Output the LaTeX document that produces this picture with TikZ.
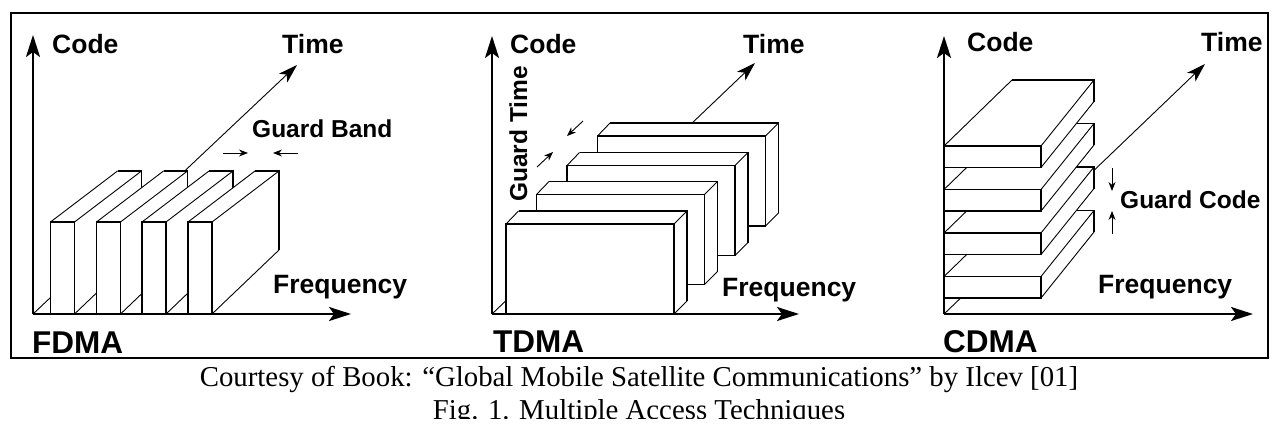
\documentclass[tikz,border=0pt]{standalone}
\usepackage{fontspec}
\setmainfont{Liberation Serif}
\setsansfont{Liberation Sans}
\usetikzlibrary{arrows.meta}

\newcommand\fdmaslab[1]{%
  \begin{scope}[shift={(#1,0)}]
    \fill[white] (0,314) -- (0,222) -- (67,171) -- (91,171) -- (91,250) -- (24,314) -- cycle;
    \draw[thinedge] (0,222) -- (67,171) (24,222) -- (91,171) (24,314) -- (91,250);
    \draw[thickedge] (0,222) rectangle (24,314);
    \draw[thickedge] (67,171) -- (91,171) -- (91,250);
  \end{scope}}
\newcommand\tdmaslab[2]{%
  \begin{scope}[shift={(#1,#2)}]
    \fill[white] (0,90) -- (0,0) -- (12.5,-13) -- (181,-13) -- (181,77) -- (168,90) -- cycle;
    \draw[thinedge] (0,0) -- (12.5,-13) (168,0) -- (181,-13) (168,90) -- (181,77);
    \draw[thickedge] (0,0) rectangle (168,90);
    \draw[thickedge] (12.5,-13) -- (181,-13) -- (181,77);
  \end{scope}}
\newcommand\cdmaslab[1]{%
  \begin{scope}[shift={(944,#1)}]
    \fill[white] (0,21.5) -- (0,0) -- (68,-66) -- (150,-66) -- (150,-44.5) -- (97,21.5) -- cycle;
    \draw[thinedge] (0,0) -- (68,-66) (97,0) -- (150,-66) (97,21.5) -- (150,-44.5);
    \draw[thickedge] (0,0) rectangle (97,21.5);
    \draw[thickedge] (68,-66) -- (150,-66) -- (150,-44.5);
  \end{scope}}

\begin{document}
\begin{tikzpicture}[x=1pt,y=-1pt,
  thickedge/.style={line width=1.9pt, line join=miter},
  thinedge/.style={line width=0.9pt},
  mainaxis/.style={line width=2.2pt, -{Stealth[length=22pt,width=14pt,inset=5pt]}},
  timeaxis/.style={line width=0.9pt, -{Stealth[length=19pt,width=12pt,inset=5pt]}},
  garrow/.style={line width=0.9pt, -{Stealth[length=9pt,width=7pt]}},
  lab/.style={font=\sffamily\bfseries\fontsize{26.5}{30}\selectfont, inner sep=0pt, anchor=base west},
  glab/.style={font=\sffamily\bfseries\fontsize{24.5}{28}\selectfont, inner sep=0pt, anchor=base west},
  methodlab/.style={font=\sffamily\bfseries\fontsize{31.5}{36}\selectfont, inner sep=0pt, anchor=base west},
  captext/.style={font=\fontsize{28.8}{32}\selectfont, inner sep=0pt, anchor=base}
]
\useasboundingbox (0,0) rectangle (1276,428);
\fill[white] (0,0) rectangle (1276,428);
\draw[line width=2pt] (11,13) rectangle (1268,358);

% ---------- coordinates ----------
\coordinate (fO) at (33,314);  \coordinate (fC) at (33,35);  \coordinate (fF) at (351,314);  \coordinate (fT) at (297,65);
\coordinate (tO) at (492,314); \coordinate (tC) at (492,36); \coordinate (tF) at (799,314);  \coordinate (tT) at (755,63);
\coordinate (cO) at (944,314); \coordinate (cC) at (944,36); \coordinate (cF) at (1253,314); \coordinate (cT) at (1205,64);

% ---------- FDMA ----------
\draw[timeaxis] (fO) -- (fT);
\fdmaslab{50.5}
\fdmaslab{96.5}
\fdmaslab{142}
\fdmaslab{188}
\draw[mainaxis] (fO) -- (fC);
\draw[mainaxis] (fO) -- (fF);
\node[lab] (fcode) at (52,54) {Code};
\node[lab] (ftime) at (282,54) {Time};
\node[glab] (fguard) at (252,137) {Guard Band};
\node[lab] (ffreq) at (273,293) {Frequency};
\node[methodlab] (fname) at (32,353) {FDMA};
\coordinate (gb1s) at (223,153); \coordinate (gb1e) at (248,153);
\coordinate (gb2s) at (298,153); \coordinate (gb2e) at (273,153);
\draw[garrow] (gb1s) -- (gb1e);
\draw[garrow] (gb2s) -- (gb2e);

% ---------- TDMA ----------
\draw[timeaxis] (tO) -- (tT);
\tdmaslab{597.5}{136}
\tdmaslab{567}{165.5}
\tdmaslab{536.5}{194.5}
\tdmaslab{506}{224}
\draw[mainaxis] (tO) -- (tC);
\draw[mainaxis] (tO) -- (tF);
\node[lab] (tcode) at (510,53) {Code};
\node[lab] (ttime) at (743,53) {Time};
\node[glab, rotate=90] (tguard) at (527,202) {Guard Time};
\node[lab] (tfreq) at (722,296) {Frequency};
\node[methodlab] (tname) at (493,352) {TDMA};
\coordinate (gt1s) at (583,121); \coordinate (gt1e) at (567,136);
\coordinate (gt2s) at (537,167); \coordinate (gt2e) at (553,152);
\draw[garrow] (gt1s) -- (gt1e);
\draw[garrow] (gt2s) -- (gt2e);

% ---------- CDMA ----------
\draw[timeaxis] (cO) -- (cT);
\cdmaslab{276.5}
\cdmaslab{233}
\cdmaslab{189.5}
\cdmaslab{146}
\draw[mainaxis] (cO) -- (cC);
\draw[mainaxis] (cO) -- (cF);
\node[lab] (ccode) at (967,52) {Code};
\node[lab] (ctime) at (1201,52) {Time};
\node[glab] (cguard) at (1120,208) {Guard Code};
\node[lab] (cfreq) at (1098,293) {Frequency};
\node[methodlab] (cname) at (943,352) {CDMA};
\coordinate (gc1s) at (1112,168); \coordinate (gc1e) at (1112,191);
\coordinate (gc2s) at (1112,234); \coordinate (gc2e) at (1112,211);
\draw[garrow] (gc1s) -- (gc1e);
\draw[garrow] (gc2s) -- (gc2e);

% ---------- caption ----------
\node[captext] (cap1) at (639,386) {Courtesy of Book: “Global Mobile Satellite Communications” by Ilcev [01]};
\begin{scope}
  \clip (0,0) rectangle (1276,418);
  \node[captext] (cap2) at (639,419.5) {Fig. 1. Multiple Access Techniques};
\end{scope}
\end{tikzpicture}
\end{document}
